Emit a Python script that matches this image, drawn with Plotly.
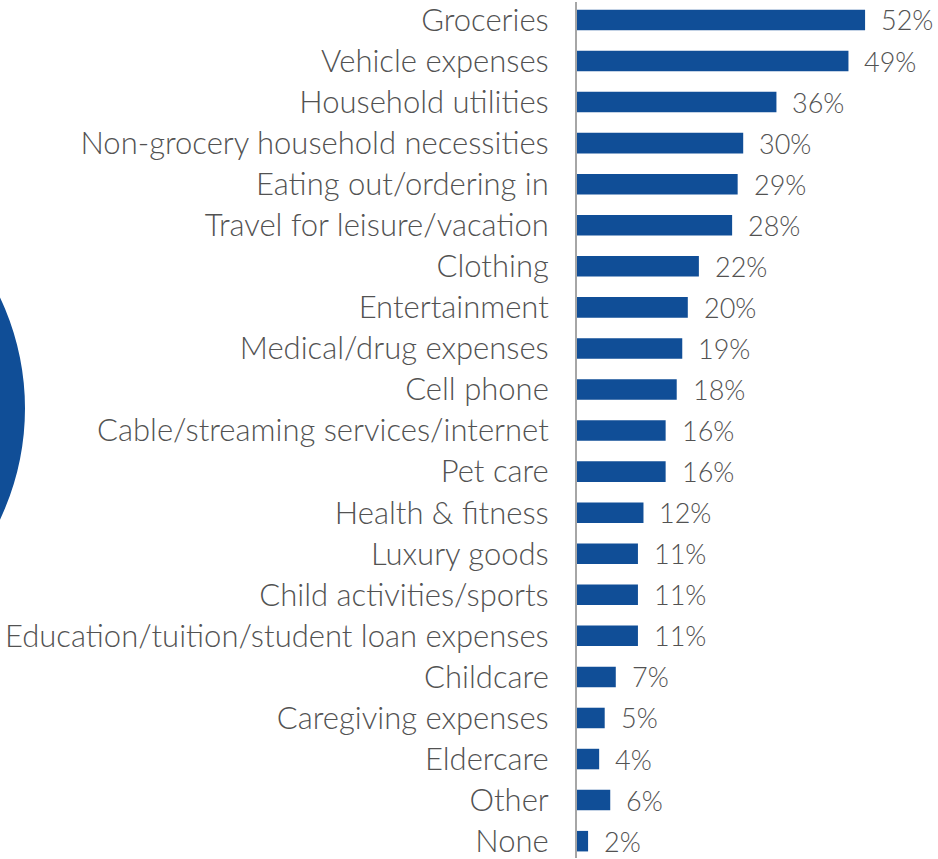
import plotly.graph_objects as go

categories = [
    "Groceries", "Vehicle expenses", "Household utilities",
    "Non-grocery household necessities", "Eating out/ordering in",
    "Travel for leisure/vacation", "Clothing", "Entertainment",
    "Medical/drug expenses", "Cell phone", "Cable/streaming services/internet",
    "Pet care", "Health & fitness", "Luxury goods", "Child activities/sports",
    "Education/tuition/student loan expenses", "Childcare",
    "Caregiving expenses", "Eldercare", "Other", "None",
]
values = [52, 49, 36, 30, 29, 28, 22, 20, 19, 18, 16, 16, 12, 11, 11, 11, 7, 5, 4, 6, 2]

BLUE = "#104E97"
GREY = "#525252"
FONT = "Lato, sans-serif"

fig = go.Figure(go.Bar(
    x=values, y=categories, orientation="h",
    marker=dict(color=BLUE, line=dict(width=0)),
    width=0.5,
    hoverinfo="skip",
))

# value labels to the right of each bar
for cat, v in zip(categories, values):
    fig.add_annotation(
        x=v, y=cat, xref="x", yref="y", text=f"{v}%",
        showarrow=False, xanchor="left", yanchor="middle", xshift=14,
        font=dict(family=FONT, size=27, color=GREY, weight=300),
    )

# decorative circle at left edge
fig.add_shape(
    type="circle", xref="paper", yref="paper",
    x0=(-497 - 577) / 361, x1=(25 - 577) / 361,
    y0=1 - (408 + 261) / 859, y1=1 - (408 - 261) / 859,
    fillcolor=BLUE, line=dict(width=0), layer="below",
)

fig.update_layout(
    width=938, height=859,
    margin=dict(l=577, r=0, t=0, b=0),
    paper_bgcolor="white", plot_bgcolor="white",
    showlegend=False,
    xaxis=dict(range=[0, 361 / 5.54], visible=False, fixedrange=True),
    yaxis=dict(
        type="category", categoryorder="array", categoryarray=categories,
        range=[20.41, -0.437],
        showline=True, linecolor="#A6A6A6", linewidth=2,
        showgrid=False, zeroline=False, ticks="",
        ticklabelstandoff=20,
        tickfont=dict(family=FONT, size=31, color=GREY, weight=300),
    ),
)

fig.write_html("out.html")
